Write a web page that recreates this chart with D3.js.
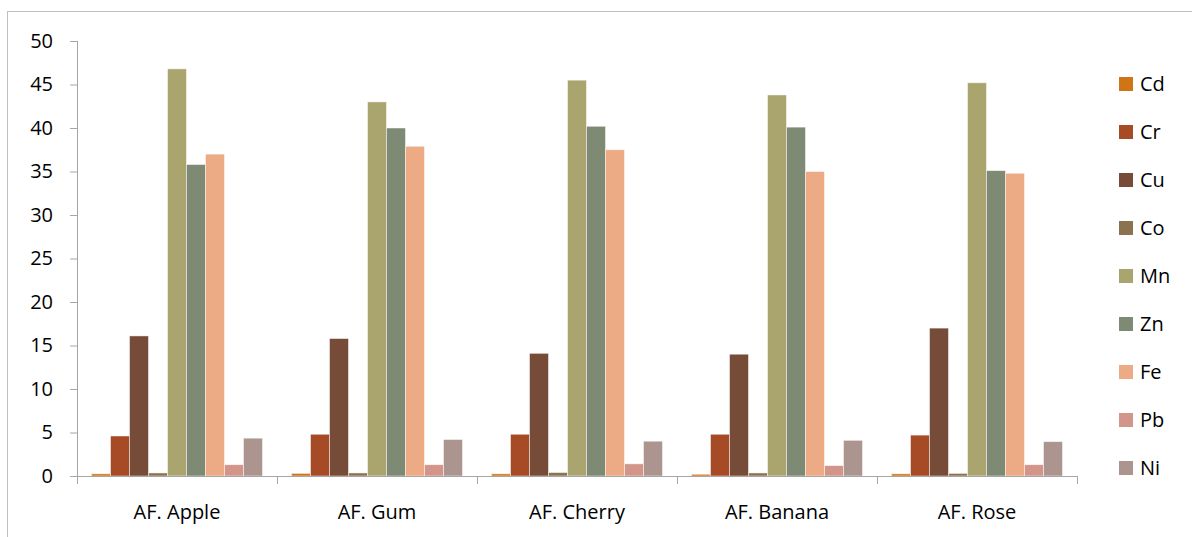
<!DOCTYPE html>
<html><head><meta charset="utf-8">
<script src="https://cdn.jsdelivr.net/npm/d3@7"></script>
<style>body{margin:0;background:#fff;} svg{display:block;} text{font-family:"Open Sans","Noto Sans",sans-serif;fill:#000;}</style>
</head><body>
<svg id="chart" width="1192" height="537"></svg>
<script>
const categories = ["AF. Apple","AF. Gum","AF. Cherry","AF. Banana","AF. Rose"];
const seriesNames = ["Cd","Cr","Cu","Co","Mn","Zn","Fe","Pb","Ni"];
const Cd = [0.25,0.3,0.25,0.2,0.25];
const Cr = [4.6,4.8,4.8,4.8,4.7];
const Cu = [16.1,15.8,14.1,14.0,17.0];
const Co = [0.35,0.35,0.4,0.35,0.3];
const Mn = [46.8,43.0,45.5,43.8,45.2];
const Zn = [35.8,40.0,40.2,40.1,35.1];
const Fe = [37.0,37.9,37.5,35.0,34.8];
const Pb = [1.3,1.3,1.4,1.2,1.3];
const Ni = [4.35,4.2,4.0,4.1,3.95];
const yTicks = [0,5,10,15,20,25,30,35,40,45,50];
const colors = ["#D07515","#A64B25","#764B37","#8B7350","#AAA56F","#7F8A74","#ECAB84","#D3958A","#AC958F"];

const seriesValues = [Cd,Cr,Cu,Co,Mn,Zn,Fe,Pb,Ni];
const svg = d3.select("#chart");
const mLeft = 77, mRight = 1077, mTop = 41, mBottom = 476;

svg.append("rect").attr("x",7.5).attr("y",11.5).attr("width",1200).attr("height",600)
  .attr("fill","none").attr("stroke","#BFBFBF").attr("stroke-width",1);

const x0 = d3.scaleBand().domain(categories).range([mLeft,mRight]).paddingInner(0).paddingOuter(0);
const x1 = d3.scaleBand().domain(seriesNames).range([14.5, 200-14.5]).padding(0);
const y = d3.scaleLinear().domain([0,50]).range([mBottom,mTop]);

// bars
const groups = svg.append("g").selectAll("g").data(categories).join("g")
  .attr("transform", d => `translate(${x0(d)},0)`);
groups.selectAll("rect").data((c,ci) => seriesNames.map((s,si) => ({s, si, v: seriesValues[si][ci]})))
  .join("rect")
  .attr("x", d => x1(d.s))
  .attr("width", x1.bandwidth())
  .attr("y", d => y(d.v))
  .attr("height", d => y(0) - y(d.v))
  .attr("fill", (d) => colors[d.si])
  .attr("stroke", "rgba(255,255,255,0.6)")
  .attr("stroke-width", 0.8);

// y axis
const yAxis = svg.append("g").attr("transform",`translate(${mLeft},0)`)
  .call(d3.axisLeft(y).tickValues(yTicks).tickSize(7).tickPadding(17).tickFormat(d3.format("d")));
yAxis.select(".domain").attr("stroke","#A6A6A6").attr("d",`M0.5,${mTop}V${mBottom}`);
yAxis.selectAll(".tick line").attr("stroke","#A6A6A6");
yAxis.selectAll("text").attr("font-size",20).attr("fill","#000").style("font-family",'"Open Sans","Noto Sans",sans-serif');

// x axis
const xAxisG = svg.append("g").attr("transform",`translate(0,${mBottom})`);
xAxisG.append("line").attr("x1",mLeft-7).attr("x2",mRight).attr("y1",0.5).attr("y2",0.5).attr("stroke","#A6A6A6");
const boundaries = categories.map(c => x0(c)).concat([mRight]);
xAxisG.selectAll("line.tk").data(boundaries).join("line").attr("class","tk")
  .attr("x1",d=>d+0.5).attr("x2",d=>d+0.5).attr("y1",0).attr("y2",8).attr("stroke","#A6A6A6");
xAxisG.selectAll("text").data(categories).join("text")
  .attr("x", d => x0(d) + x0.bandwidth()/2)
  .attr("y", 43)
  .attr("text-anchor","middle")
  .attr("font-size",20)
  .text(d => d);

// legend
const lg = svg.append("g").selectAll("g").data(seriesNames).join("g")
  .attr("transform",(d,i)=>`translate(1119,${84 + i*48})`);
lg.append("rect").attr("x",0).attr("y",-7).attr("width",14).attr("height",14).attr("fill",(d,i)=>colors[i]);
lg.append("text").attr("x",21).attr("y",7).attr("font-size",20).text(d=>d);
</script>
</body></html>
